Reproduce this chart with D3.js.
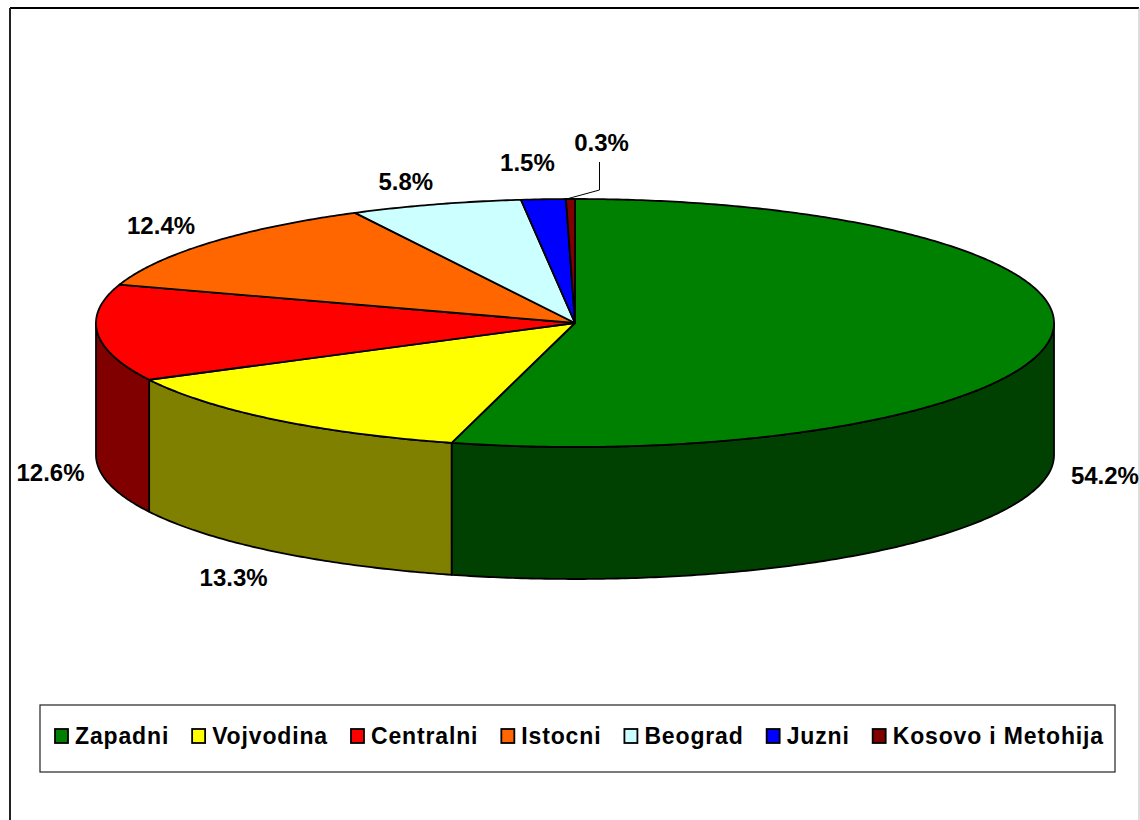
<!DOCTYPE html>
<html><head><meta charset="utf-8">
<script src="https://cdnjs.cloudflare.com/ajax/libs/d3/7.8.5/d3.min.js"></script>
<style>html,body{margin:0;padding:0;background:#fff}svg{display:block}text{font-family:"Liberation Sans",Arial,sans-serif;font-weight:bold;fill:#000}</style>
</head><body><svg id="c" width="1140" height="820"></svg>
<script>
const categories = ["Zapadni","Vojvodina","Centralni","Istocni","Beograd","Juzni","Kosovo i Metohija"];
const values = [54.2,13.3,12.6,12.4,5.8,1.5,0.3];
const topColors = ["#008000","#ffff00","#ff0000","#ff6600","#ccffff","#0000ff","#800000"];
const wallColors = ["#004000","#808000","#800000","#803300","#668080","#000080","#400000"];
const labelNudgeX = [55,-41,-47,-49,-30,-16,31];
const labelNudgeY = [136,158,139,-17,-23,-37,-57];

const W=1140,H=820,cx=575,cy=323,rx=479,ry=124,depth=132;
const svg=d3.select("#c");
const pie=d3.pie().value(d=>d).sort(null);
const arcs=pie(values);
const ex=t=>cx+rx*Math.sin(t), ey=t=>cy-ry*Math.cos(t);

function sweep(p,a,b,dy){ // elliptical arc by stepping the angle, either direction
  const n=Math.max(2,Math.ceil(Math.abs(b-a)/0.01));
  d3.range(n+1).forEach(i=>{const t=a+(b-a)*i/n;p.lineTo(ex(t),ey(t)+dy);});
}
// chart frame
svg.append("rect").attr("width",W).attr("height",H).attr("fill","#fff");
svg.append("line").attr("x1",10).attr("x2",1139).attr("y1",8).attr("y2",8).attr("stroke","#000").attr("stroke-width",2);
svg.append("line").attr("x1",10).attr("x2",10).attr("y1",8).attr("y2",820).attr("stroke","#222").attr("stroke-width",2);
svg.append("line").attr("x1",1139).attr("x2",1139).attr("y1",8).attr("y2",820).attr("stroke","#bbb").attr("stroke-width",1);

const PI=Math.PI;
// side walls, only the front half of the ellipse
const walls=svg.append("g");
arcs.forEach((a,i)=>{
  const s=Math.max(a.startAngle,PI/2), e=Math.min(a.endAngle,3*PI/2);
  if(e<=s) return;
  const p=d3.path();
  p.moveTo(ex(s),ey(s));
  sweep(p,s,e,0);
  p.lineTo(ex(e),ey(e)+depth);
  sweep(p,e,s,depth);
  p.closePath();
  walls.append("path").attr("d",p.toString()).attr("fill",wallColors[i]).attr("stroke","#000").attr("stroke-width",1.8).attr("stroke-linejoin","round");
});
// top faces
const tops=svg.append("g");
arcs.forEach((a,i)=>{
  const p=d3.path();
  p.moveTo(cx,cy);
  p.lineTo(ex(a.startAngle),ey(a.startAngle));
  sweep(p,a.startAngle,a.endAngle,0);
  p.closePath();
  tops.append("path").attr("d",p.toString()).attr("fill",topColors[i]).attr("stroke","#000").attr("stroke-width",1.8).attr("stroke-linejoin","round");
});
// data labels
const fmt=d=>d.toFixed(1)+"%";
const labels=svg.append("g").attr("font-size",24);
arcs.forEach((a,i)=>{
  const m=(a.startAngle+a.endAngle)/2;
  labels.append("text").attr("x",ex(m)+labelNudgeX[i]).attr("y",ey(m)+labelNudgeY[i]).attr("dy","0.36em")
    .attr("text-anchor","middle").text(fmt(a.data));
});
// leader line of the smallest slice
{const a=arcs[arcs.length-1],m=(a.startAngle+a.endAngle)/2,x0=ex(m),y0=ey(m);
 svg.append("path").attr("fill","none").attr("stroke","#000").attr("stroke-width",1)
  .attr("d",d3.line()([[x0-4,y0],[x0+29,y0-9],[x0+29,y0-37]]));}
// legend
const lg=svg.append("g");
lg.append("rect").attr("x",40).attr("y",705).attr("width",1075).attr("height",67).attr("fill","#fff").attr("stroke","#222").attr("stroke-width",1.2);
let lx=55;
categories.forEach((c,i)=>{
  lg.append("rect").attr("x",lx).attr("y",729).attr("width",13).attr("height",14).attr("fill",topColors[i]).attr("stroke","#000").attr("stroke-width",1.8);
  const t=lg.append("text").attr("x",lx+20).attr("y",744).attr("font-size",23).attr("letter-spacing",0.85).text(c);
  lx+=20+t.node().getComputedTextLength()+23;
});
</script></body></html>
